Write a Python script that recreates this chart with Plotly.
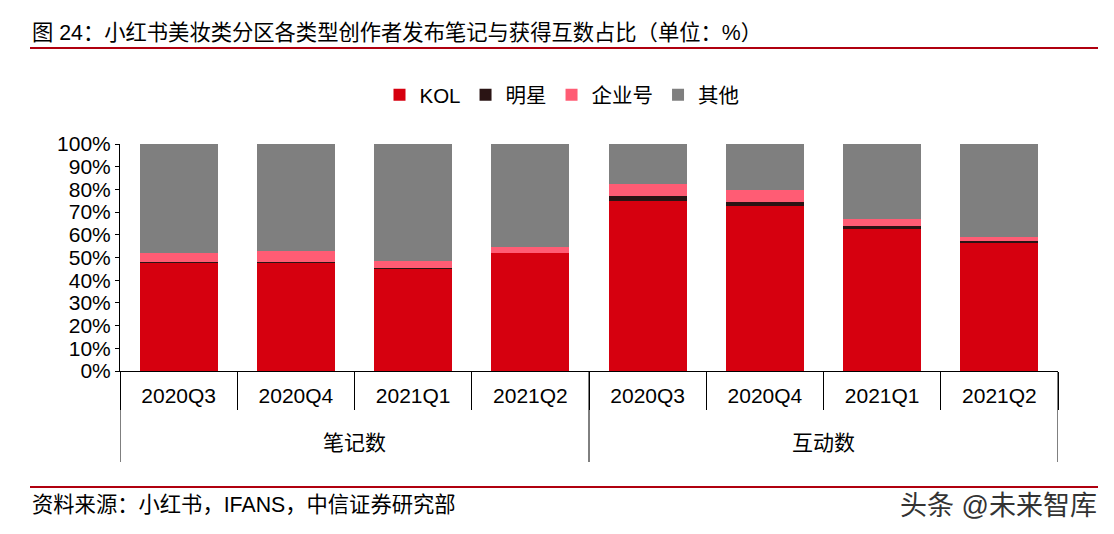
import plotly.graph_objects as go

groups = ["笔记数", "互动数"]
quarters = ["2020Q3", "2020Q4", "2021Q1", "2021Q2"] * 2

kol = [48.0, 48.0, 45.2, 52.0, 75.0, 72.5, 62.7, 56.2]
star = [0.05, 0.05, 0.05, 0.05, 2.2, 1.8, 1.0, 0.9]
corp = [4.0, 4.8, 3.2, 2.7, 5.3, 5.4, 3.3, 1.9]
other = [round(100 - a - b - c, 2) for a, b, c in zip(kol, star, corp)]

series = [("KOL", kol, "#D6000F"), ("明星", star, "#2A1414"),
          ("企业号", corp, "#FF5C74"), ("其他", other, "#7F7F7F")]

OFF = 8  # page body margin
W, H = 1114 - 2 * OFF, 534 - 2 * OFF
L, R, T, B = 120 - OFF, 1058 - OFF, 144 - OFF, 371 - OFF


def px(x):
    return (x - OFF - L) / (R - L)


def py(y):
    return (B - (y - OFF)) / (B - T)


FONT = "Arial, 'Liberation Sans', 'Noto Sans CJK SC', sans-serif"
pos = list(range(len(quarters)))
bounds = [i - 0.5 for i in range(len(quarters) + 1)]

fig = go.Figure()
for name, vals, col in series:
    fig.add_trace(go.Bar(name=name, x=pos, y=vals, width=0.665,
                         marker=dict(color=col, line=dict(width=0))))

fig.update_layout(
    width=W, height=H, barmode="stack",
    margin=dict(l=L, r=W - R, t=T, b=H - B, autoexpand=False),
    paper_bgcolor="white", plot_bgcolor="white",
    font=dict(family=FONT, size=21, color="black"),
    legend=dict(orientation="h", x=px(562), xanchor="center", y=py(95), yanchor="middle",
                font=dict(size=20.5), itemwidth=30, traceorder="normal"),
    xaxis=dict(range=[-0.5, len(quarters) - 0.5], tickvals=pos, ticktext=quarters,
               showline=True, linecolor="black", linewidth=1, showgrid=False, zeroline=False,
               ticks="outside", ticklen=6, tickcolor="rgba(0,0,0,0)",
               tickfont=dict(size=21),
               minor=dict(tickvals=bounds, ticks="outside", ticklen=38, tickcolor="black",
                          tickwidth=1, showgrid=False)),
    yaxis=dict(range=[0, 100], dtick=10, ticksuffix="%", showgrid=False, zeroline=False,
               showline=True, linecolor="black", linewidth=1, ticks="outside", ticklen=4,
               tickcolor="black", tickfont=dict(size=21)),
)

# group labels and dividers
for gi, g in enumerate(groups):
    fig.add_annotation(text=g, xref="x", yref="paper", x=gi * 4 + 1.5, y=py(442),
                       xanchor="center", yanchor="middle", showarrow=False,
                       font=dict(size=21, color="black"))
for b in [bounds[0], bounds[4], bounds[8]]:
    fig.add_shape(type="line", xref="x", yref="paper", x0=b, x1=b, y0=0, y1=py(462),
                  line=dict(color="black", width=1))

fig.add_annotation(text="图 24：小红书美妆类分区各类型创作者发布笔记与获得互数占比（单位：%）",
                   xref="paper", yref="paper", x=px(30), y=py(33), xanchor="left", yanchor="middle",
                   showarrow=False, font=dict(size=21.3, color="black"))
fig.add_shape(type="line", xref="paper", yref="paper", x0=px(30), x1=px(1098),
              y0=py(48), y1=py(48), line=dict(color="#B0000F", width=2))
fig.add_shape(type="line", xref="paper", yref="paper", x0=px(30), x1=px(1098),
              y0=py(487), y1=py(487), line=dict(color="#B0000F", width=2))
fig.add_annotation(text="资料来源：小红书，IFANS，中信证券研究部",
                   xref="paper", yref="paper", x=px(30), y=py(505), xanchor="left", yanchor="middle",
                   showarrow=False, font=dict(size=21.3, color="black"))
fig.add_annotation(text="头条 @未来智库",
                   xref="paper", yref="paper", x=px(1099), y=py(506), xanchor="right", yanchor="middle",
                   showarrow=False, font=dict(size=27, color="#333333"))

fig.write_html("out.html")
